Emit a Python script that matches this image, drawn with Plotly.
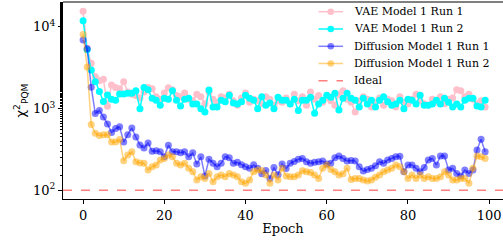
import plotly.graph_objects as go

epochs = list(range(100))

vae_run1 = [
    15500, 5500, 3580, 2450, 2200, 2290, 1070, 1950, 1820, 1750,
    2130, 1600, 1500, 1450, 1350, 1600, 1820, 1750, 1400, 1300,
    1550, 1800, 1700, 1450, 1400, 1550, 1300, 1250, 1500, 1400,
    1150, 1600, 1300, 1200, 1400, 1350, 1500, 1250, 1100, 1350,
    1550, 1200, 1300, 1250, 1150, 1400, 1300, 1100, 1250, 1200,
    1350, 1150, 1500, 1250, 1400, 1100, 1600, 1300, 1450, 1200,
    1350, 1250, 1100, 1500, 1650, 1300, 1200, 910, 1250, 1400,
    1300, 1050, 1200, 1350, 1100, 1300, 1250, 1050, 1400, 1200,
    1150, 1300, 1500, 1250, 1150, 1100, 1300, 1200, 1400, 1150,
    1300, 1350, 1700, 1650, 1400, 1500, 1300, 1150, 1250, 1050,
]

vae_run2 = [
    11900, 5250, 2960, 2130, 1620, 1220, 1470, 1300, 1270, 1510,
    1510, 1540, 1540, 1660, 1000, 1820, 1700, 1340, 1270, 1100,
    1340, 1300, 1660, 1270, 1080, 1300, 1340, 1140, 1140, 1000,
    910, 1690, 1050, 1050, 1270, 1210, 1460, 1170, 1140, 1210,
    1460, 1340, 1270, 1000, 1400, 1100, 1170, 1000, 1380, 1270,
    1270, 1140, 1300, 950, 1270, 1270, 1380, 880, 1140, 1270,
    1460, 1380, 1540, 960, 1340, 1540, 1340, 1270, 1050, 1340,
    1140, 1270, 1050, 1270, 1400, 1210, 1100, 1140, 1270, 1000,
    1300, 1270, 1140, 1460, 1100, 1100, 1140, 1270, 1140, 1340,
    1200, 1050, 1140, 1050, 1270, 1340, 1340, 1080, 1050, 1270,
]

diff_run1 = [
    6900, 5400, 1830, 870, 950, 790, 650, 510, 570, 600,
    390, 480, 580, 450, 360, 330, 380, 300, 305, 296,
    257, 357, 296, 296, 288, 296, 257, 288, 210, 257,
    150, 240, 214, 195, 214, 258, 250, 214, 220, 205,
    195, 186, 205, 186, 160, 175, 140, 190, 155, 210,
    185, 214, 225, 240, 246, 224, 214, 220, 224, 228,
    210, 214, 250, 263, 246, 228, 232, 228, 195, 172,
    180, 186, 200, 224, 214, 235, 246, 258, 262, 169,
    204, 204, 186, 169, 190, 235, 246, 204, 263, 263,
    177, 186, 161, 150, 177, 161, 177, 311, 421, 297,
]

diff_run2 = [
    8100, 3240, 640, 500, 470, 480, 480, 390, 390, 420,
    230, 270, 296, 224, 216, 214, 177, 195, 204, 235,
    246, 270, 258, 214, 204, 214, 186, 169, 134, 147,
    140, 161, 127, 147, 154, 147, 161, 154, 147, 127,
    122, 134, 169, 177, 175, 154, 122, 154, 134, 186,
    150, 147, 147, 154, 174, 169, 165, 154, 140, 186,
    204, 180, 169, 154, 160, 186, 136, 140, 140, 134,
    130, 134, 145, 154, 169, 177, 186, 204, 195, 169,
    140, 154, 140, 154, 140, 147, 140, 140, 147, 169,
    154, 134, 134, 140, 140, 122, 186, 263, 257, 246,
]

ideal_value = 100

x_ticks = [0, 20, 40, 60, 80, 100]
y_ticks = [100, 1000, 10000]
y_tick_labels = ["10<sup>2</sup>", "10<sup>3</sup>", "10<sup>4</sup>"]

x_range = [-4.95, 103.4]
y_range_log = [1.894, 4.305]

FONT = "DejaVu Serif"
W, H = 503, 241
ML, MR, MT, MB = 63, 0, 2, 42
PW, PH = W - ML - MR, H - MT - MB

series = [
    ("VAE Model 1 Run 1", vae_run1, "rgb(255,192,203)"),
    ("VAE Model 1 Run 2", vae_run2, "rgb(0,255,255)"),
    ("Diffusion Model 1 Run 1", diff_run1, "rgba(0,0,255,0.5)"),
    ("Diffusion Model 1 Run 2", diff_run2, "rgba(255,165,0,0.5)"),
]
ideal_name = "Ideal"
ideal_color = "rgba(255,0,0,0.5)"

fig = go.Figure()
for name, vals, col in series:
    fig.add_trace(go.Scatter(
        x=epochs, y=vals, name=name, mode="lines+markers",
        line=dict(color=col, width=1.5),
        marker=dict(color=col, size=7, line=dict(width=0)),
        showlegend=False,
    ))

fig.add_trace(go.Scatter(
    x=x_range, y=[ideal_value, ideal_value], name=ideal_name, mode="lines",
    line=dict(color=ideal_color, width=1.5, dash="dash"),
    showlegend=False,
))

# hand-placed legend (matplotlib-like compact spacing)
def px_to_paper(px, py):
    return (px - ML) / PW, 1 - (py - MT) / PH

leg_x0, leg_x1, leg_text_x = 318.5, 343, 352
leg_rows = [11.7, 29.0, 46.3, 63.5, 80.8]
entries = [(n, c, True) for n, _, c in series] + [(ideal_name, ideal_color, False)]
for (name, col, has_marker), row_y in zip(entries, leg_rows):
    ax0, ay = px_to_paper(leg_x0, row_y)
    ax1, _ = px_to_paper(leg_x1, row_y)
    fig.add_shape(type="line", xref="paper", yref="paper", x0=ax0, x1=ax1, y0=ay, y1=ay,
                  line=dict(color=col, width=1.5, dash=None if has_marker else "dash"))
    if has_marker:
        cx = (ax0 + ax1) / 2
        fig.add_shape(type="circle", xref="paper", yref="paper",
                      xsizemode="pixel", ysizemode="pixel", xanchor=cx, yanchor=ay,
                      x0=-3.3, x1=3.3, y0=-3.3, y1=3.3,
                      fillcolor=col, line=dict(width=0))
    tx, _ = px_to_paper(leg_text_x, row_y)
    fig.add_annotation(xref="paper", yref="paper", x=tx, y=ay, text=name,
                       showarrow=False, xanchor="left", yanchor="middle",
                       font=dict(family=FONT, size=11, color="black"))

fig.update_layout(
    width=W, height=H,
    margin=dict(l=ML, r=MR, t=MT, b=MB),
    paper_bgcolor="white", plot_bgcolor="white",
    font=dict(family=FONT, color="black", size=13),
    showlegend=False,
)

fig.update_xaxes(
    range=x_range, tickvals=x_ticks, showgrid=False, zeroline=False,
    showline=True, linecolor="black", linewidth=1,
    ticks="outside", ticklen=4, tickcolor="black", tickwidth=1,
    title=dict(text="Epoch", font=dict(family=FONT, size=13), standoff=2),
    tickfont=dict(family=FONT, size=13),
)

fig.update_yaxes(
    type="log", range=y_range_log, tickvals=y_ticks, ticktext=y_tick_labels,
    showgrid=False, zeroline=False,
    showline=True, linecolor="black", linewidth=1,
    ticks="outside", ticklen=4, tickcolor="black", tickwidth=1,
    minor=dict(ticks="outside", ticklen=2, tickcolor="black", showgrid=False),
    title=dict(text="χ<sup>2</sup><sub>PQM</sub>", font=dict(family="DejaVu Sans", size=13), standoff=4),
    tickfont=dict(family=FONT, size=13),
)

fig.add_shape(type="line", xref="paper", yref="paper", x0=0, x1=1, y0=1, y1=1,
              line=dict(color="#808080", width=2))

fig.write_html("out.html", config={"displayModeBar": False, "staticPlot": True})

with open("out.html", "r", encoding="utf-8") as f:
    html = f.read()
html = html.replace("<head>", "<head><style>html,body{margin:0;padding:0;overflow:hidden;}</style>", 1)
with open("out.html", "w", encoding="utf-8") as f:
    f.write(html)
